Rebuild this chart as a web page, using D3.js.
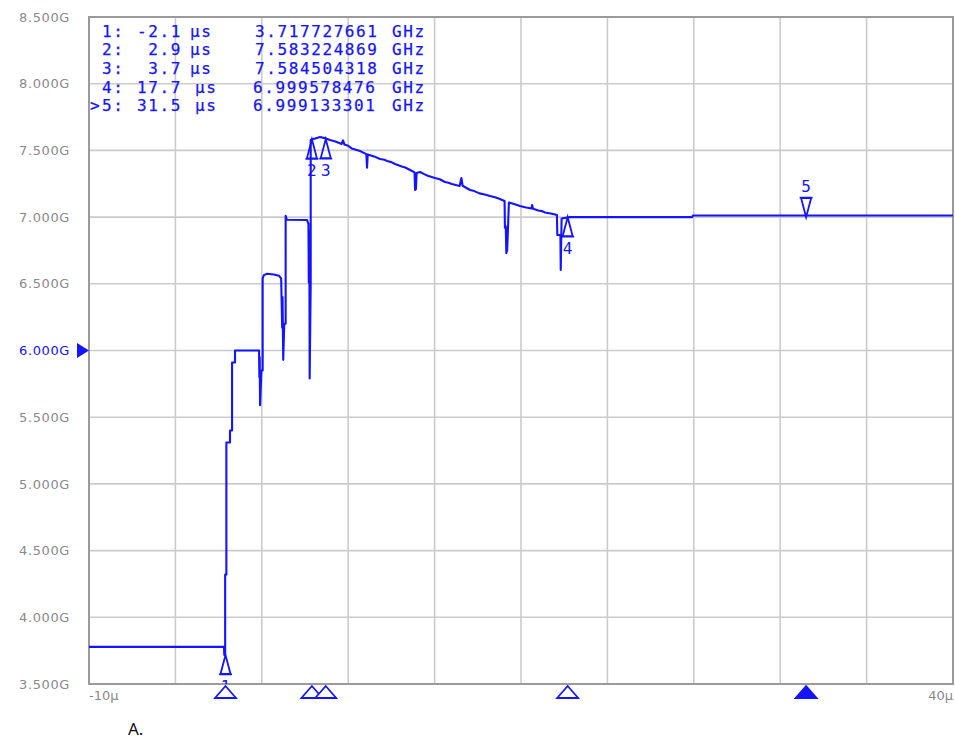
<!DOCTYPE html>
<html><head><meta charset="utf-8">
<script src="https://cdn.jsdelivr.net/npm/d3@7"></script>
<style>body{margin:0;background:#fff}svg{display:block}</style>
</head><body>
<svg id="c" width="955" height="740"></svg>
<script>
// ---- data ----
const timeUs = [-10, -2.19, -2.17, -2.12, -2.12, -2.05, -2.05, -1.84, -1.84, -1.72, -1.72, -1.55, -1.55, -0.16,
  -0.14, -0.12, -0.10, -0.02, 0.05, 0.05, 0.12, 0.3, 0.7, 1.0, 1.12, 1.18, 1.20, 1.24, 1.30, 1.38, 1.38, 1.45,
  2.62, 2.70, 2.72, 2.75, 2.77, 2.83, 2.83, 2.96, 3.1, 3.37, 3.7, 3.95, 4.3, 4.62, 4.70, 4.78, 5.0, 5.2, 5.45, 5.68, 6.05,
  6.09, 6.13, 6.5, 6.84, 7.1, 7.3, 7.5, 7.71, 8.1, 8.3, 8.58, 8.84, 8.87, 8.92, 8.96, 9.16, 9.4, 9.6, 10.02, 10.3, 10.6, 10.8, 11.0, 11.45,
  11.55, 11.62, 12.05, 12.3, 12.6, 12.9, 13.21, 13.5, 13.78, 14.05, 14.07, 14.12, 14.15, 14.2, 14.3, 14.6, 14.94, 15.3, 15.6,
  15.64, 15.7, 16.0, 16.2, 16.39, 16.8, 17.08, 17.1, 17.28, 17.3, 17.35, 17.84, 24.9, 24.95, 40];
const freqGHz = [3.778, 3.778, 3.718, 3.718, 4.32, 4.32, 5.31, 5.31, 5.40, 5.40, 5.91, 5.91, 6.0, 6.0,
  5.80, 5.95, 5.59, 5.85, 5.85, 6.54, 6.565, 6.575, 6.57, 6.56, 6.54, 6.17, 6.40, 5.93, 6.2, 6.2, 7.01, 6.98,
  6.978, 6.95, 6.51, 6.9, 5.79, 6.5, 7.578, 7.585, 7.59, 7.600, 7.59, 7.578, 7.565, 7.548, 7.575, 7.545, 7.535, 7.515, 7.505, 7.495, 7.472,
  7.37, 7.47, 7.455, 7.436, 7.43, 7.418, 7.412, 7.398, 7.38, 7.372, 7.353, 7.335, 7.203, 7.21, 7.33, 7.338, 7.322, 7.31, 7.293, 7.284, 7.263, 7.258, 7.248, 7.233,
  7.293, 7.235, 7.203, 7.195, 7.178, 7.17, 7.158, 7.148, 7.136, 7.121, 6.92, 6.93, 6.73, 6.75, 7.11, 7.098, 7.083, 7.072, 7.065,
  7.09, 7.062, 7.05, 7.045, 7.035, 7.025, 7.016, 6.866, 6.866, 6.604, 6.99, 6.9996, 6.9996, 7.012, 7.012];
const yTicks = [3.5, 4.0, 4.5, 5.0, 5.5, 6.0, 6.5, 7.0, 7.5, 8.0, 8.5];
const yTickLabels = ["3.500G", "4.000G", "4.500G", "5.000G", "5.500G", "6.000G", "6.500G", "7.000G", "7.500G", "8.000G", "8.500G"];
const xGrid = [-5, 0, 5, 10, 15, 20, 25, 30, 35];
const xTickLabels = ["-10μ", "40μ"];
const markerIds = ["1", "2", "3", "4", "5"];
const markerTimes = [-2.1, 2.9, 3.7, 17.7, 31.5];
const markerFreqs = [3.717727661, 7.583224869, 7.584504318, 6.999578476, 6.999133301];
const markerTimeText = ["-2.1", "2.9", "3.7", "17.7", "31.5"];
const markerFreqText = ["3.717727661", "7.583224869", "7.584504318", "6.999578476", "6.999133301"];
const activeMarker = "5";
const refLevel = 6.0;
const caption = "A.";

// ---- drawing ----
const blue = "#1414ff";
const svg = d3.select("#c");
const L = 89, R = 953, T = 17, B = 684;
const x = d3.scaleLinear().domain([-10, 40]).range([L, R]);
const y = d3.scaleLinear().domain([3.5, 8.5]).range([B, T]);

svg.append("defs").append("clipPath").attr("id", "pc")
  .append("rect").attr("x", L).attr("y", T).attr("width", R - L).attr("height", B - T);

// grid
const grid = svg.append("g").attr("stroke", "#cbcbcb").attr("stroke-width", 1.6);
grid.selectAll(".gx").data(xGrid).join("line")
  .attr("x1", d => x(d)).attr("x2", d => x(d)).attr("y1", T).attr("y2", B);
grid.selectAll(".gy").data(yTicks.slice(1, -1)).join("line")
  .attr("y1", d => y(d)).attr("y2", d => y(d)).attr("x1", L).attr("x2", R);

// frame
svg.append("rect").attr("x", L).attr("y", T).attr("width", R - L).attr("height", B - T)
  .attr("fill", "none").attr("stroke", "#9a9a9a").attr("stroke-width", 2);

// y labels
svg.append("g").selectAll("text").data(yTicks).join("text")
  .attr("x", 70).attr("y", d => y(d)).attr("dy", "0.36em")
  .attr("text-anchor", "end")
  .attr("font-family", "DejaVu Sans").attr("font-size", 13).attr("letter-spacing", 0.6)
  .attr("fill", d => d === refLevel ? blue : "#8a8a8a")
  .text((d, i) => yTickLabels[i]);

// reference level triangle
svg.append("path")
  .attr("d", d3.line()([[77, y(refLevel) - 7.5], [89, y(refLevel)], [77, y(refLevel) + 7.5]]) + "Z")
  .attr("fill", blue);

// x labels
svg.append("text").attr("x", L).attr("y", 700).attr("text-anchor", "start")
  .attr("font-family", "DejaVu Sans").attr("font-size", 13).attr("fill", "#8a8a8a").text(xTickLabels[0]);
svg.append("text").attr("x", R).attr("y", 700).attr("text-anchor", "end")
  .attr("font-family", "DejaVu Sans").attr("font-size", 13).attr("fill", "#8a8a8a").text(xTickLabels[1]);

// trace
const plot = svg.append("g").attr("clip-path", "url(#pc)");
const pts = timeUs.map((t, i) => [t, freqGHz[i]]);
plot.append("path").datum(pts)
  .attr("d", d3.line().x(d => x(d[0])).y(d => y(d[1])))
  .attr("fill", "none").attr("stroke", blue).attr("stroke-width", 2.1).attr("stroke-linejoin", "round");

// markers on trace
const mk = markerIds.map((id, i) => ({id, t: markerTimes[i], f: markerFreqs[i]}));
mk.forEach(m => {
  const g = plot.append("g").attr("transform", `translate(${x(m.t)},${y(m.f)})`);
  const down = m.id === activeMarker;
  const s = down ? -1 : 1;
  g.append("path")
    .attr("d", `M0,0L-5,${19 * s}L5,${19 * s}Z M-6.5,${19.5 * s}H6.5`)
    .attr("fill", "none").attr("stroke", blue).attr("stroke-width", 1.8);
  g.append("text").attr("x", 0).attr("y", down ? -25 : 37)
    .attr("text-anchor", "middle").attr("font-family", "DejaVu Sans Mono").attr("font-size", 16)
    .attr("fill", blue).text(m.id);
});

// markers on bottom axis
svg.append("g").selectAll("path").data(mk).join("path")
  .attr("transform", d => `translate(${x(d.t)},686)`)
  .attr("d", "M0,0L-10.5,12L10.5,12Z")
  .attr("fill", d => d.id === activeMarker ? blue : "#fff")
  .attr("stroke", blue).attr("stroke-width", 1.8).attr("stroke-linejoin", "miter");

// marker table
const tbl = svg.append("g").attr("font-family", "DejaVu Sans Mono").attr("font-size", 16)
  .attr("letter-spacing", 1.6).attr("fill", blue).attr("stroke", blue).attr("stroke-width", 0.25);
mk.forEach((m, i) => {
  const by = 36.7 + i * 18.6;
  const wide = m.id === "4" || m.id === "5";
  if (m.id === activeMarker) tbl.append("text").attr("x", 90).attr("y", by).text(">");
  tbl.append("text").attr("x", 102).attr("y", by).text(m.id + ":");
  tbl.append("text").attr("x", 182).attr("y", by).attr("text-anchor", "end").text(markerTimeText[i]);
  tbl.append("text").attr("x", wide ? 195 : 190).attr("y", by).text("μs");
  tbl.append("text").attr("x", wide ? 253 : 255).attr("y", by).text(markerFreqText[i]);
  tbl.append("text").attr("x", 392).attr("y", by).text("GHz");
});

// caption
svg.append("text").attr("x", 128).attr("y", 735).attr("font-family", "Noto Sans")
  .attr("font-size", 17).attr("fill", "#111").text(caption);
</script>
</body></html>
